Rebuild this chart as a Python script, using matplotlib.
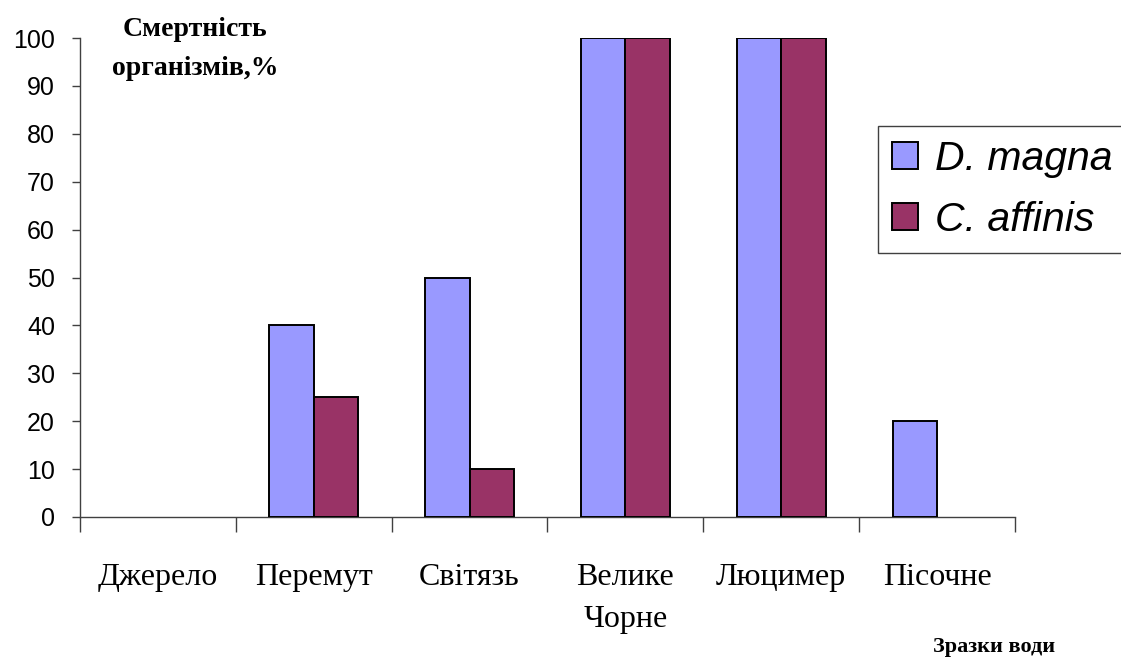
import matplotlib.pyplot as plt
from matplotlib.patches import Patch
import numpy as np

# data
categories = ['Джерело', 'Перемут', 'Світязь', 'Велике\nЧорне', 'Люцимер', 'Пісочне']
d_magna = [0, 40, 50, 100, 100, 20]
c_affinis = [0, 25, 10, 100, 100, 0]
series_names = ['D. magna', 'C. affinis']
series_colors = ['#9999FF', '#993366']
y_ticks = list(range(0, 101, 10))

fig = plt.figure(figsize=(11.21, 6.59), dpi=100)
ax = fig.add_axes([80 / 1121, 1 - 517 / 659, 935 / 1121, 479 / 659])

x = np.arange(len(categories))
w = 1 / 3.5
b1 = ax.bar(x - w / 2, d_magna, w, color=series_colors[0], edgecolor='black',
            linewidth=1.4, zorder=3)
b2 = ax.bar(x + w / 2, c_affinis, w, color=series_colors[1], edgecolor='black',
            linewidth=1.4, zorder=3)
# Excel does not draw empty bars
for bars in (b1, b2):
    for p in bars.patches:
        if p.get_height() == 0:
            p.set_visible(False)

ax.set_xlim(-0.5, len(categories) - 0.5)
ax.set_ylim(0, 100)
ax.set_yticks(y_ticks)
ax.tick_params(axis='y', labelsize=18, length=6, width=1, pad=12, colors='#404040',
               labelcolor='black')
for t in ax.get_yticklabels():
    t.set_family('Liberation Sans')

# boundaries get the tick marks, centres get the labels
ax.set_xticks(np.arange(len(categories) + 1) - 0.5)
ax.set_xticklabels([])
ax.tick_params(axis='x', which='major', length=11, width=1, colors='#404040')
ax.set_xticks(x, minor=True)
ax.set_xticklabels(categories, minor=True, family='Liberation Serif', fontsize=23,
                   linespacing=1.6, va='top')
ax.tick_params(axis='x', which='minor', length=0, pad=33)

for s in ['top', 'right']:
    ax.spines[s].set_visible(False)
for s in ['left', 'bottom']:
    ax.spines[s].set_color('#404040')
    ax.spines[s].set_linewidth(1)

title_font = dict(family='Liberation Serif', weight='bold', fontsize=20)
fig.text(195 / 1121, 1 - 36 / 659, 'Смертність', ha='center', va='baseline', **title_font)
fig.text(195 / 1121, 1 - 75 / 659, 'організмів,%', ha='center', va='baseline', **title_font)
fig.text(1055 / 1121, 1 - 652 / 659, 'Зразки води', ha='right', va='baseline',
         family='Liberation Serif', weight='bold', fontsize=16)

handles = [Patch(facecolor=c, edgecolor='black', linewidth=1.4) for c in series_colors]
leg = fig.legend(handles, series_names, loc='upper left', mode='expand',
                 bbox_to_anchor=(878 / 1121, 1 - 126 / 659, 280 / 1121, 0),
                 borderaxespad=0,
                 prop={'family': 'Liberation Sans', 'style': 'italic', 'size': 29.5},
                 handlelength=0.63, handleheight=0.64, handletextpad=0.42,
                 labelspacing=0.57, borderpad=0.34, fancybox=False, framealpha=1)
leg.get_frame().set_edgecolor('#404040')
leg.get_frame().set_linewidth(1)

fig.savefig('out.png', dpi=100)
